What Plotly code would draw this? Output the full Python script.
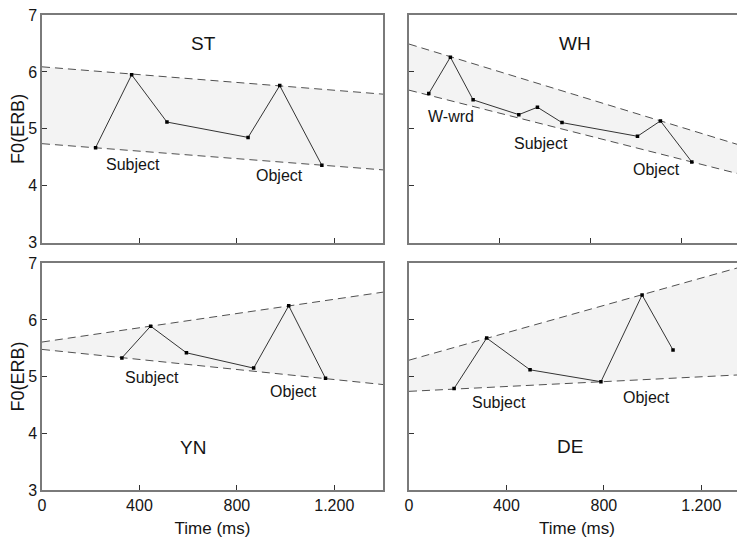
import plotly.graph_objects as go

# ---------------- data ----------------
st_x = [220, 368, 513, 846, 976, 1149]
st_y = [4.67, 5.95, 5.12, 4.85, 5.76, 4.36]
st_band_x = [0, 1400]
st_upper = [6.09, 5.61]
st_lower = [4.74, 4.28]

wh_x = [87, 182, 282, 483, 565, 673, 1005, 1106, 1244]
wh_y = [5.62, 6.26, 5.51, 5.25, 5.38, 5.11, 4.87, 5.14, 4.42]
wh_band_x = [0, 1500]
wh_upper = [6.49, 4.66]
wh_lower = [5.68, 4.16]

yn_x = [328, 446, 593, 869, 1013, 1164]
yn_y = [5.33, 5.89, 5.42, 5.15, 6.25, 4.97]
yn_band_x = [0, 1400]
yn_upper = [5.61, 6.49]
yn_lower = [5.48, 4.86]

de_x = [185, 319, 497, 788, 957, 1084]
de_y = [4.79, 5.68, 5.12, 4.91, 6.44, 5.47]
de_band_x = [0, 1400]
de_upper = [5.29, 6.98]
de_lower = [4.74, 5.04]

x_tickvals = [0, 400, 800, 1200]
x_ticktext = ["0", "400", "800", "1.200"]
y_tickvals = [3, 4, 5, 6, 7]
y_ticktext = ["3", "4", "5", "6", "7"]

# labels: (text, x, y)
st_labels = [("Subject", 373, 4.37), ("Object", 976, 4.19)]
wh_labels = [("W-wrd", 183, 5.21), ("Subject", 579, 4.75), ("Object", 1088, 4.28)]
yn_labels = [("Subject", 453, 4.98), ("Object", 1031, 4.74)]
de_labels = [("Subject", 370, 4.55), ("Object", 974, 4.64)]
titles = [("ST", 664, 6.50), ("WH", 729, 6.50), ("YN", 620, 3.75), ("DE", 659, 3.77)]

# ---------------- figure ----------------
FONT = "Liberation Sans, Arial, sans-serif"
AX_COL = "#7a7a7a"
TXT = "#151515"
fig = go.Figure()

panels = [
    ("x", "y", st_x, st_y, st_band_x, st_upper, st_lower, st_labels),
    ("x2", "y2", wh_x, wh_y, wh_band_x, wh_upper, wh_lower, wh_labels),
    ("x3", "y3", yn_x, yn_y, yn_band_x, yn_upper, yn_lower, yn_labels),
    ("x4", "y4", de_x, de_y, de_band_x, de_upper, de_lower, de_labels),
]

annotations = []
for i, (xa, ya, px, py, bx, up, lo, labs) in enumerate(panels):
    fig.add_trace(go.Scatter(x=bx, y=lo, xaxis=xa, yaxis=ya, mode="lines",
                             line=dict(color="#505050", width=1, dash="8px,5px"),
                             showlegend=False, hoverinfo="skip"))
    fig.add_trace(go.Scatter(x=bx, y=up, xaxis=xa, yaxis=ya, mode="lines",
                             line=dict(color="#505050", width=1, dash="8px,5px"),
                             fill="tonexty", fillcolor="#f3f3f3",
                             showlegend=False, hoverinfo="skip"))
    fig.add_trace(go.Scatter(x=px, y=py, xaxis=xa, yaxis=ya, mode="lines+markers",
                             line=dict(color="#333333", width=1),
                             marker=dict(symbol="square", size=3.5, color="#000000"),
                             showlegend=False))
    for t, lx, ly in labs:
        annotations.append(dict(text=t, x=lx, y=ly, xref=xa, yref=ya, showarrow=False,
                                font=dict(family=FONT, size=16, color=TXT)))
    t, tx, ty = titles[i]
    annotations.append(dict(text=t, x=tx, y=ty, xref=xa, yref=ya, showarrow=False,
                            font=dict(family=FONT, size=19, color=TXT)))

# geometry (page has an 8px body margin, so figure coords = page coords - 8)
OFF = 8
W, H = 745 - OFF, 543 - OFF
L, R, T = 42 - OFF, 0, 15 - OFF
B = H - (490.5 - OFF)
pw = W - L - R
ph = H - T - B
left_dom = [0, (383 - 42) / pw]
right_dom = [(409 - 42) / pw, 1]
top_dom = [(490.5 - 243) / ph, 1]
bot_dom = [0, (490.5 - 263.5) / ph]
vis_frac = (745 - 409) / (383 - 42)

def xaxis(dom, rng, labels, title, mirror, anchor):
    return dict(domain=dom, range=rng, anchor=anchor, showline=True, linecolor=AX_COL,
                linewidth=1.5, mirror=mirror, ticks="inside", ticklen=5, tickcolor="#333333",
                tickvals=x_tickvals, ticktext=x_ticktext, showticklabels=labels,
                ticklabeloverflow="allow",
                showgrid=False, zeroline=False, automargin=False,
                tickfont=dict(family=FONT, size=16, color=TXT),
                title=dict(text=title, font=dict(family=FONT, size=17, color=TXT), standoff=9))

def yaxis(dom, labels, title, mirror, anchor):
    return dict(domain=dom, range=[3, 7], anchor=anchor, showline=True, linecolor=AX_COL,
                linewidth=1.5, mirror=mirror, ticks="inside", ticklen=5, tickcolor="#333333",
                tickvals=y_tickvals, ticktext=y_ticktext, showticklabels=labels,
                ticklabeloverflow="allow",
                showgrid=False, zeroline=False, automargin=False,
                tickfont=dict(family=FONT, size=16, color=TXT),
                title=dict(text=title, font=dict(family=FONT, size=18, color=TXT), standoff=2))

fig.update_layout(
    width=W, height=H,
    margin=dict(l=L, r=R, t=T, b=B),
    paper_bgcolor="white", plot_bgcolor="white",
    showlegend=False,
    annotations=annotations,
    xaxis=xaxis(left_dom, [0, 1400], False, None, True, "y"),
    yaxis=yaxis(top_dom, True, "F0(ERB)", True, "x"),
    xaxis2=xaxis(right_dom, [0, 1500 * vis_frac], False, None, True, "y2"),
    yaxis2=yaxis(top_dom, False, None, False, "x2"),
    xaxis3=xaxis(left_dom, [0, 1400], True, "Time (ms)", True, "y3"),
    yaxis3=yaxis(bot_dom, True, "F0(ERB)", True, "x3"),
    xaxis4=xaxis(right_dom, [0, 1400 * vis_frac], True, "Time (ms)", True, "y4"),
    yaxis4=yaxis(bot_dom, False, None, False, "x4"),
)

fig.write_html("out.html")
